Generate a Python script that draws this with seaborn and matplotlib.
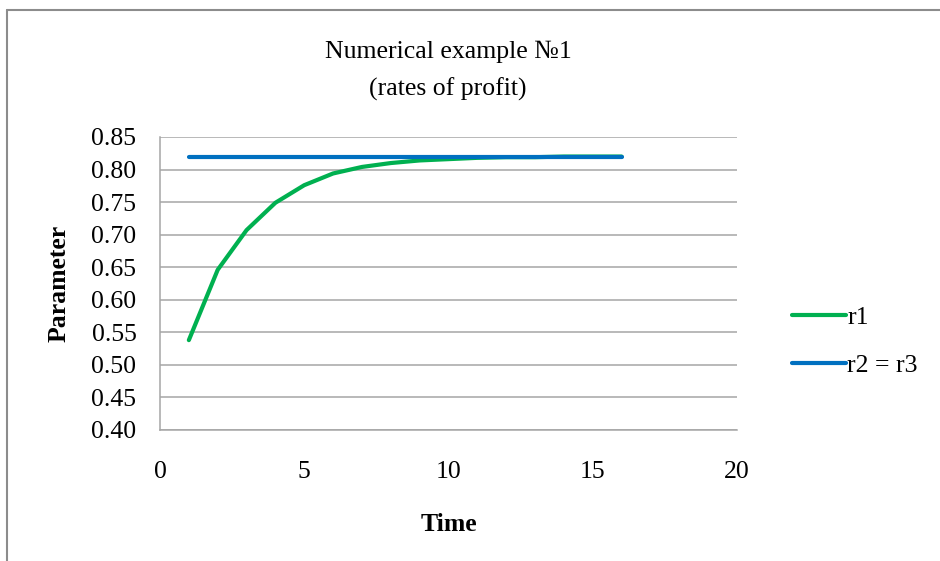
import matplotlib
matplotlib.use("Agg")
import matplotlib.pyplot as plt
from matplotlib.lines import Line2D
import pandas as pd
import seaborn as sns

# Model output: rates of profit over time
time = [1, 2, 3, 4, 5, 6, 7, 8, 9, 10, 11, 12, 13, 14, 15, 16]
r1 = [0.538, 0.646, 0.707, 0.749, 0.776, 0.794, 0.804, 0.810, 0.814,
      0.816, 0.818, 0.819, 0.819, 0.820, 0.820, 0.820]
r2_r3 = [0.820] * 16

series_names = ["r1", "r2 = r3"]
series_colors = ["#00B050", "#0070C0"]
y_ticks = [0.40, 0.45, 0.50, 0.55, 0.60, 0.65, 0.70, 0.75, 0.80, 0.85]
x_ticks = [0, 5, 10, 15, 20]

df = pd.DataFrame({
    "Time": time * 2,
    "Parameter": r1 + r2_r3,
    "series": [series_names[0]] * len(time) + [series_names[1]] * len(time),
})

sns.set_theme(style="white")
plt.rcParams["font.family"] = ["Liberation Serif", "DejaVu Serif"]
for key in ["text.color", "axes.labelcolor", "xtick.color", "ytick.color"]:
    plt.rcParams[key] = "black"

FS = 18.5

fig = plt.figure(figsize=(9.4, 5.61), dpi=100)
ax = fig.add_axes([160 / 940, 1 - 430 / 561, 577 / 940, 293 / 561])

sns.lineplot(data=df, x="Time", y="Parameter", hue="series",
             palette=dict(zip(series_names, series_colors)),
             linewidth=3.0, ax=ax, legend=False,
             solid_capstyle="round", solid_joinstyle="round")

ax.set_xlim(0, 20)
ax.set_ylim(0.40, 0.85)
ax.set_xticks(x_ticks)
ax.set_yticks(y_ticks)
ax.set_yticklabels([f"{v:.2f}" for v in y_ticks])
ax.yaxis.grid(True, color="#a6a6a6", linewidth=1.1)
ax.set_axisbelow(True)
for side in ["top", "right"]:
    ax.spines[side].set_visible(False)
for side in ["left", "bottom"]:
    ax.spines[side].set_color("#a6a6a6")
    ax.spines[side].set_linewidth(1.1)
ax.tick_params(axis="y", length=0, pad=17, labelsize=FS)
ax.tick_params(axis="x", length=0, pad=22, labelsize=FS)

ax.set_xlabel("Time", fontsize=FS, fontweight="bold", labelpad=22)
ax.set_ylabel("Parameter", fontsize=FS, fontweight="bold", labelpad=15)

fig.text(448 / 940, 1 - 58 / 561, "Numerical example №1",
         ha="center", va="baseline", fontsize=FS)
fig.text(448 / 940, 1 - 96 / 561, "(rates of profit)",
         ha="center", va="baseline", fontsize=FS)

handles = [Line2D([0], [0], color=c, linewidth=3.0, solid_capstyle="round")
           for c in series_colors]
fig.legend(handles, series_names, loc="center left",
           bbox_to_anchor=(792 / 940, 1 - 341.5 / 561), frameon=False,
           fontsize=FS, handlelength=2.1, handletextpad=0.05,
           labelspacing=0.95, borderaxespad=0, borderpad=0)

# Chart frame (top and left edges)
fig.add_artist(Line2D([6.5 / 940, 1], [1 - 10 / 561, 1 - 10 / 561],
                      color="#8c8c8c", linewidth=1.5, transform=fig.transFigure))
fig.add_artist(Line2D([6.5 / 940, 6.5 / 940], [0, 1 - 10 / 561],
                      color="#8c8c8c", linewidth=1.5, transform=fig.transFigure))

fig.savefig("out.png", dpi=100, facecolor="white")
